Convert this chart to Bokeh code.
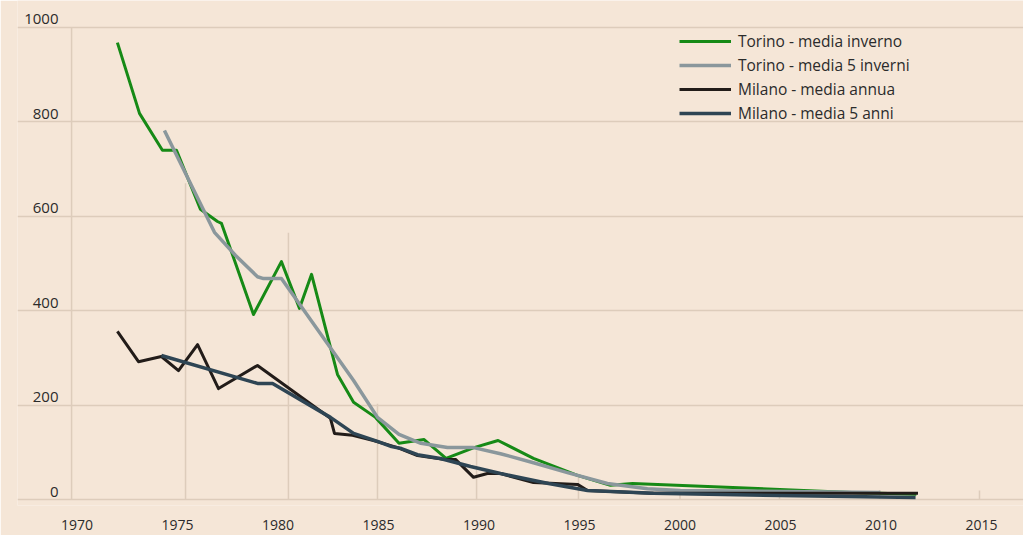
from bokeh.plotting import figure
from bokeh.models import Range1d, FixedTicker, Grid, Legend, LegendItem
from bokeh.core.properties import value
from bokeh.embed import file_html
from bokeh.resources import INLINE

# ---------------- data ----------------
torino_inv_year = [1972.01, 1973.11, 1974.25, 1974.95, 1976.14, 1976.99, 1977.19, 1978.78,
                   1980.17, 1981.07, 1981.67, 1982.96, 1983.76, 1984.85, 1986.02, 1987.27,
                   1988.36, 1989.75, 1990.95, 1992.71, 1994.90, 1996.54, 1997.64, 2008.53, 2011.76]
torino_inv = [968, 818, 740, 740, 615, 589, 585, 392,
              504, 405, 477, 265, 206, 174, 119, 127,
              87, 110, 125, 87, 51, 30, 34, 15, 11]

torino_5_year = [1974.35, 1976.84, 1977.89, 1978.98, 1979.28, 1980.17, 1983.76, 1984.95,
                 1986.02, 1987.11, 1988.43, 1989.73, 1991.07, 1992.71, 1994.40, 1996.39,
                 1998.38, 2000.02, 2009.97]
torino_5 = [782, 566, 517, 472, 468, 468, 252, 174,
            138, 119, 110, 110, 97, 78, 57, 34,
            23, 19, 15]

milano_ann_year = [1972.01, 1973.06, 1974.20, 1975.05, 1976.00, 1977.04, 1978.98, 1982.61,
                   1982.81, 1983.71, 1984.75, 1985.95, 1986.94, 1988.23, 1988.83, 1989.73,
                   1990.42, 1991.07, 1992.71, 1994.90, 1995.40, 1998.53, 2011.84]
milano_ann = [356, 292, 303, 273, 328, 235, 284, 172,
              140, 136, 125, 110, 93, 85, 85, 47,
              55, 55, 36, 32, 19, 13, 13]

milano_5_year = [1974.20, 1978.98, 1979.73, 1982.61, 1983.76, 1984.95, 1985.65, 1986.14,
                 1986.94, 1988.08, 1989.58, 1991.07, 1993.46, 1995.40, 1998.68, 2011.72]
milano_5 = [305, 246, 246, 174, 140, 123, 112, 108,
            95, 87, 70, 55, 34, 19, 13, 4]

series_labels = ["Torino - media inverno", "Torino - media 5 inverni",
                 "Milano - media annua", "Milano - media 5 anni"]

x_ticks = [1970, 1975, 1980, 1985, 1990, 1995, 2000, 2005, 2010, 2015]
y_ticks = [0, 200, 400, 600, 800, 1000]
y_tick_labels = ["0", "200", "400", "600", "800", "1000"]

# vertical grid lines (style): where they sit and how high they reach
grid_x = [1969.73, 1975.40, 1980.52, 1984.95, 1989.88, 1994.95, 2000.0, 2004.95, 2009.93, 2014.9]
grid_top = [1000, 670, 565, 203, 104, 47, 20, 20, 20, 19]

# ---------------- style ----------------
BG = "#f5e6d7"
GRID = "#ddccbb"
TEXT = "#2b2b2b"
FONT = "Open Sans"
colors = ["#168a16", "#8a979c", "#221c19", "#2e4554"]
widths = [3, 3.5, 3, 3.5]

p = figure(width=1023, height=535,
           x_range=Range1d(1967.04, 2017.09), y_range=Range1d(-12.7, 1057.2),
           y_axis_location=None, toolbar_location=None, output_backend="svg",
           min_border_left=17, min_border_right=0, min_border_top=0, min_border_bottom=30)
p.background_fill_color = BG
p.border_fill_color = BG
p.outline_line_color = None
p.xgrid.visible = False
p.ygrid.visible = False

p.add_layout(Grid(dimension=1, ticker=FixedTicker(ticks=y_ticks),
                  grid_line_color=GRID, grid_line_width=1.5))

p.segment(x0=grid_x, y0=[0] * len(grid_x), x1=grid_x, y1=grid_top,
          line_color=GRID, line_width=1.5, level="underlay")

ax = p.xaxis[0]
ax.ticker = FixedTicker(ticks=x_ticks)
ax.axis_line_color = None
ax.major_tick_line_color = None
ax.minor_tick_line_color = None
ax.major_label_standoff = 8
ax.major_label_text_font = FONT
ax.major_label_text_font_size = "14px"
ax.major_label_text_color = TEXT

# y tick labels sit inside the plot, above-left of each grid line
ylab_x = 1969.08
p.text(x=[ylab_x] * len(y_ticks), y=y_ticks, text=y_tick_labels,
       text_align="right", text_baseline="alphabetic", y_offset=-8,
       text_font=value(FONT), text_font_size="15px", text_color=TEXT)

xs = [torino_inv_year, torino_5_year, milano_ann_year, milano_5_year]
ys = [torino_inv, torino_5, milano_ann, milano_5]
renderers = []
for x, y, c, w in zip(xs, ys, colors, widths):
    r = p.line(x, y, line_color=c, line_width=w, line_join="round", line_cap="butt")
    renderers.append(r)

legend = Legend(items=[LegendItem(label=l, renderers=[r]) for l, r in zip(series_labels, renderers)],
                location=(662, 380), orientation="vertical",
                padding=0, margin=0, spacing=0,
                glyph_width=52, glyph_height=24, label_height=24, label_standoff=7,
                label_text_font=FONT, label_text_font_size="15.5px", label_text_color=TEXT,
                background_fill_alpha=0, border_line_alpha=0)
p.add_layout(legend)

open("out.html", "w").write(file_html(p, INLINE))
